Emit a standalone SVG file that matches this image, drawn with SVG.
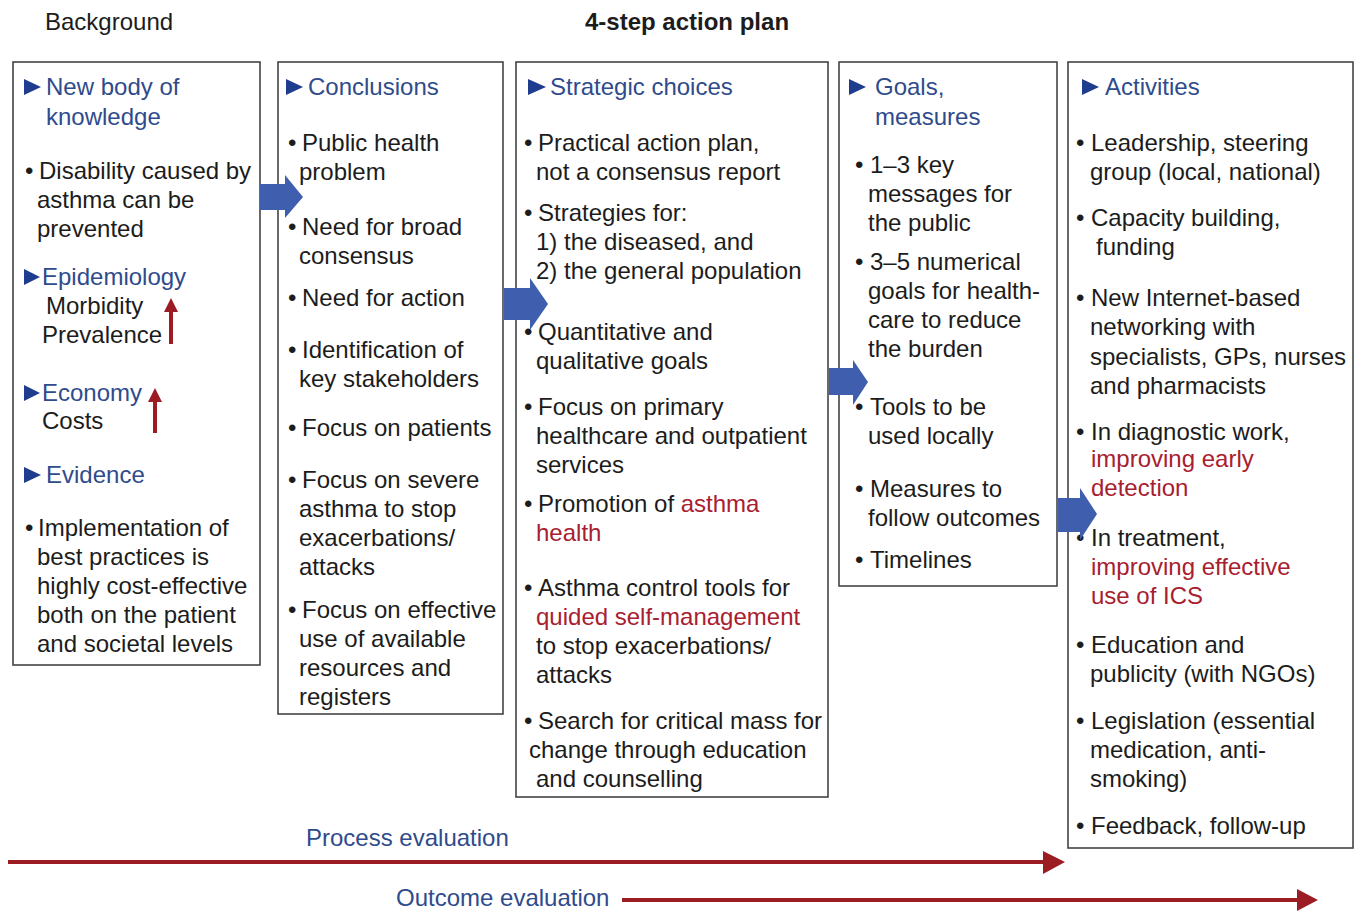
<svg xmlns="http://www.w3.org/2000/svg" width="1362" height="911" viewBox="0 0 1362 911">
<defs>
<style>
text{font-family:"Liberation Sans",Arial,sans-serif;font-size:24px;fill:#1c1c1c}
.h{fill:#2f4b8c}
.r{fill:#a8202f}
.b{font-weight:bold}
.box{fill:#fff;stroke:#444;stroke-width:1.6}
.tri{fill:#1f3d8f}
.blue{fill:#3f5fae}
.red{fill:#9b1c22}
</style>
</defs>
<rect width="1362" height="911" fill="#fff"/>

<g id="titles">
<text x="45" y="30">Background</text>
<text x="585" y="30" class="b">4-step action plan</text>
</g>

<g id="background">
<rect class="box" x="13" y="62" width="247" height="603"/>
<polygon class="tri" points="24,79 41,87 24,95"/>
<text x="46" y="95" class="h">New body of</text>
<text x="46" y="125" class="h">knowledge</text>
<text x="25" y="179">•</text><text x="39" y="179">Disability caused by</text>
<text x="37" y="208">asthma can be</text>
<text x="37" y="237">prevented</text>
<polygon class="tri" points="24,269 40,277 24,285"/>
<text x="42" y="285" class="h">Epidemiology</text>
<text x="46" y="314">Morbidity</text>
<text x="42" y="343">Prevalence</text>
<rect class="red" x="169" y="310" width="4" height="34"/>
<polygon class="red" points="164,312 171,298 178,312"/>
<polygon class="tri" points="24,385 40,393 24,401"/>
<text x="42" y="401" class="h">Economy</text>
<text x="42" y="429">Costs</text>
<rect class="red" x="153" y="400" width="4" height="33"/>
<polygon class="red" points="148,402 155,388 162,402"/>
<polygon class="tri" points="24,467 41,475 24,483"/>
<text x="46" y="483" class="h">Evidence</text>
<text x="25" y="536">•</text><text x="38" y="536">Implementation of</text>
<text x="37" y="565">best practices is</text>
<text x="37" y="594">highly cost-effective</text>
<text x="37" y="623">both on the patient</text>
<text x="37" y="652">and societal levels</text>
</g>

<g id="conclusions">
<rect class="box" x="278" y="62" width="225" height="652"/>
<polygon class="tri" points="286,79 303,87 286,95"/>
<text x="308" y="95" class="h">Conclusions</text>
<text x="288" y="151">•</text><text x="302" y="151">Public health</text>
<text x="299" y="180">problem</text>
<text x="288" y="235">•</text><text x="302" y="235">Need for broad</text>
<text x="299" y="264">consensus</text>
<text x="288" y="306">•</text><text x="302" y="306">Need for action</text>
<text x="288" y="358">•</text><text x="302" y="358">Identification of</text>
<text x="299" y="387">key stakeholders</text>
<text x="288" y="436">•</text><text x="302" y="436">Focus on patients</text>
<text x="288" y="488">•</text><text x="302" y="488">Focus on severe</text>
<text x="299" y="517">asthma to stop</text>
<text x="299" y="546">exacerbations/</text>
<text x="299" y="575">attacks</text>
<text x="288" y="618">•</text><text x="302" y="618">Focus on effective</text>
<text x="299" y="647">use of available</text>
<text x="299" y="676">resources and</text>
<text x="299" y="705">registers</text>
</g>

<g id="strategic">
<rect class="box" x="516" y="62" width="312" height="735"/>
<polygon class="tri" points="528,79 546,87 528,95"/>
<text x="550" y="95" class="h">Strategic choices</text>
<text x="524" y="151">•</text><text x="538" y="151">Practical action plan,</text>
<text x="536" y="180">not a consensus report</text>
<text x="524" y="221">•</text><text x="538" y="221">Strategies for:</text>
<text x="536" y="250">1) the diseased, and</text>
<text x="536" y="279">2) the general population</text>
<text x="524" y="340">•</text><text x="538" y="340">Quantitative and</text>
<text x="536" y="369">qualitative goals</text>
<text x="524" y="415">•</text><text x="538" y="415">Focus on primary</text>
<text x="536" y="444">healthcare and outpatient</text>
<text x="536" y="473">services</text>
<text x="524" y="512">•</text><text x="538" y="512">Promotion of <tspan class="r">asthma</tspan></text>
<text x="536" y="541" class="r">health</text>
<text x="524" y="596">•</text><text x="538" y="596">Asthma control tools for</text>
<text x="536" y="625" class="r">quided self-management</text>
<text x="536" y="654">to stop exacerbations/</text>
<text x="536" y="683">attacks</text>
<text x="524" y="729">•</text><text x="538" y="729">Search for critical mass for</text>
<text x="529" y="758">change through education</text>
<text x="536" y="787">and counselling</text>
</g>

<g id="goals">
<rect class="box" x="839" y="62" width="218" height="524"/>
<polygon class="tri" points="849,79 866,87 849,95"/>
<text x="875" y="95" class="h">Goals,</text>
<text x="875" y="125" class="h">measures</text>
<text x="855" y="173">•</text><text x="870" y="173">1–3 key</text>
<text x="868" y="202">messages for</text>
<text x="868" y="231">the public</text>
<text x="855" y="270">•</text><text x="870" y="270">3–5 numerical</text>
<text x="868" y="299">goals for health-</text>
<text x="868" y="328">care to reduce</text>
<text x="868" y="357">the burden</text>
<text x="855" y="415">•</text><text x="870" y="415">Tools to be</text>
<text x="868" y="444">used locally</text>
<text x="855" y="497">•</text><text x="870" y="497">Measures to</text>
<text x="868" y="526">follow outcomes</text>
<text x="855" y="568">•</text><text x="870" y="568">Timelines</text>
</g>

<g id="activities">
<rect class="box" x="1068" y="62" width="285" height="786"/>
<polygon class="tri" points="1082,79 1099,87 1082,95"/>
<text x="1105" y="95" class="h">Activities</text>
<text x="1076" y="151">•</text><text x="1091" y="151">Leadership, steering</text>
<text x="1090" y="180">group (local, national)</text>
<text x="1076" y="226">•</text><text x="1091" y="226">Capacity building,</text>
<text x="1096" y="255">funding</text>
<text x="1076" y="306">•</text><text x="1091" y="306">New Internet-based</text>
<text x="1090" y="335">networking with</text>
<text x="1090" y="365">specialists, GPs, nurses</text>
<text x="1090" y="394">and pharmacists</text>
<text x="1076" y="440">•</text><text x="1091" y="440">In diagnostic work,</text>
<text x="1091" y="467" class="r">improving early</text>
<text x="1091" y="496" class="r">detection</text>
<text x="1076" y="546">•</text><text x="1091" y="546">In treatment,</text>
<text x="1091" y="575" class="r">improving effective</text>
<text x="1091" y="604" class="r">use of ICS</text>
<text x="1076" y="653">•</text><text x="1091" y="653">Education and</text>
<text x="1090" y="682">publicity (with NGOs)</text>
<text x="1076" y="729">•</text><text x="1091" y="729">Legislation (essential</text>
<text x="1090" y="758">medication, anti-</text>
<text x="1090" y="787">smoking)</text>
<text x="1076" y="834">•</text><text x="1091" y="834">Feedback, follow-up</text>
</g>

<g id="connectors">
<polygon class="blue" points="260,184 285,184 285,175 303,197 285,218 285,210 260,210"/>
<polygon class="blue" points="504,288 530,288 530,278 548,304 530,330 530,320 504,320"/>
<polygon class="blue" points="829,368 853,368 853,360 868,382 853,405 853,395 829,395"/>
<polygon class="blue" points="1058,498 1080,498 1080,488 1097,514 1080,540 1080,532 1058,532"/>
<line x1="8" y1="862" x2="1046" y2="862" stroke="#9b1c22" stroke-width="4"/>
<polygon class="red" points="1043,851 1065,862 1043,874"/>
<line x1="622" y1="900" x2="1300" y2="900" stroke="#9b1c22" stroke-width="4"/>
<polygon class="red" points="1297,889 1318,900 1297,911"/>
</g>

<g id="evaluation-labels">
<text x="306" y="846" class="h">Process evaluation</text>
<text x="396" y="906" class="h">Outcome evaluation</text>
</g>
</svg>
